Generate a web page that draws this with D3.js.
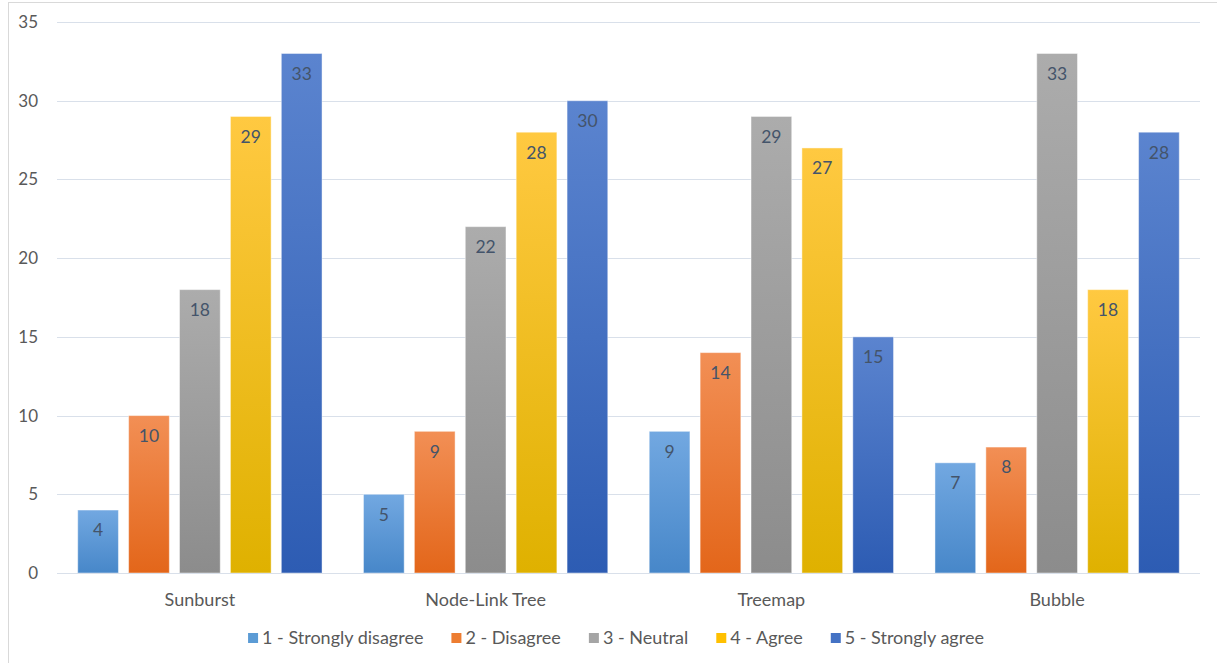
<!DOCTYPE html>
<html>
<head>
<meta charset="utf-8">
<script src="https://cdn.jsdelivr.net/npm/d3@7"></script>
<style>
  html, body { margin: 0; padding: 0; background: #fff; }
  svg { display: block; font-family: Lato, "Open Sans", sans-serif; }
</style>
</head>
<body>
<svg id="chart" width="1217" height="663"></svg>
<script>
// Survey responses per visualization type
const categories = ["Sunburst", "Node-Link Tree", "Treemap", "Bubble"];
const seriesNames = ["1 - Strongly disagree", "2 - Disagree", "3 - Neutral", "4 - Agree", "5 - Strongly agree"];
const stronglyDisagree = [4, 5, 9, 7];
const disagree = [10, 9, 14, 8];
const neutral = [18, 22, 29, 33];
const agree = [29, 28, 27, 18];
const stronglyAgree = [33, 30, 15, 28];
const yTicks = [0, 5, 10, 15, 20, 25, 30, 35];

const seriesValues = [stronglyDisagree, disagree, neutral, agree, stronglyAgree];
// gradient stops per series: top (light) / bottom (dark)
const seriesColors = [
  { top: "#72a8e1", bottom: "#4787c9", key: "#5b9bd5" },
  { top: "#f28f55", bottom: "#e3661a", key: "#ed7d31" },
  { top: "#acacac", bottom: "#8c8c8c", key: "#a5a5a5" },
  { top: "#ffc941", bottom: "#dfb100", key: "#ffc000" },
  { top: "#5b84cf", bottom: "#2d5cb3", key: "#4472c4" }
];

const FONT = "Lato, 'Open Sans', sans-serif";
const svg = d3.select("#chart");
const margin = { left: 57, right: 17, top: 22, bottom: 90 };
const W = 1217, H = 663;

// chart frame
svg.append("rect")
  .attr("x", 8.5).attr("y", 2.5)
  .attr("width", 1230).attr("height", 700)
  .attr("fill", "#fff").attr("stroke", "#d9d9d9").attr("stroke-width", 1);

const x0 = d3.scaleBand().domain(categories)
  .range([margin.left, W - margin.right])
  .paddingInner(0.145).paddingOuter(0.0725);
const x1 = d3.scaleBand().domain(d3.range(seriesNames.length))
  .range([0, x0.bandwidth()]).paddingInner(0.2);
const y = d3.scaleLinear().domain([0, 35]).range([H - margin.bottom, margin.top]);

// gradients
const defs = svg.append("defs");
seriesColors.forEach((c, i) => {
  const g = defs.append("linearGradient").attr("id", "grad" + i)
    .attr("x1", 0).attr("y1", 0).attr("x2", 0).attr("y2", 1);
  g.append("stop").attr("offset", "0%").attr("stop-color", c.top);
  g.append("stop").attr("offset", "100%").attr("stop-color", c.bottom);
});

// gridlines
svg.append("g")
  .selectAll("line").data(yTicks).join("line")
  .attr("x1", margin.left).attr("x2", W - margin.right)
  .attr("y1", d => Math.round(y(d)) + 0.5).attr("y2", d => Math.round(y(d)) + 0.5)
  .attr("stroke", "#d9e0ea").attr("stroke-width", 1);

// y axis labels
const yAxis = d3.axisLeft(y).tickValues(yTicks).tickSize(0).tickPadding(0);
const yg = svg.append("g").attr("transform", `translate(38,0)`).call(yAxis);
yg.select(".domain").remove();
yg.selectAll("text").attr("fill", "#595959").style("font-size", "17px")
  .style("font-family", FONT);

// bars
const groups = svg.append("g").selectAll("g").data(categories).join("g")
  .attr("transform", d => `translate(${x0(d)},0)`);

groups.each(function(cat, ci) {
  const g = d3.select(this);
  seriesValues.forEach((vals, si) => {
    const v = vals[ci];
    g.append("rect")
      .attr("x", x1(si)).attr("y", y(v))
      .attr("width", x1.bandwidth()).attr("height", y(0) - y(v))
      .attr("fill", `url(#grad${si})`)
      .attr("stroke", "rgba(255,255,255,0.45)").attr("stroke-width", 1);
    g.append("text")
      .attr("x", x1(si) + x1.bandwidth() / 2).attr("y", y(v) + 22)
      .attr("text-anchor", "middle").attr("dominant-baseline", "middle")
      .attr("fill", "#44546a").style("font-size", "17.5px")
      .text(v);
  });
});

// baseline
svg.append("line")
  .attr("x1", margin.left).attr("x2", W - margin.right)
  .attr("y1", Math.round(y(0)) + 0.5).attr("y2", Math.round(y(0)) + 0.5)
  .attr("stroke", "#d9e0ea");

// category axis labels
const xAxis = d3.axisBottom(x0).tickSize(0).tickPadding(0);
const xg = svg.append("g").attr("transform", `translate(0,${y(0) + 20})`).call(xAxis);
xg.select(".domain").remove();
xg.selectAll("text").attr("fill", "#595959").style("font-size", "18px")
  .style("font-family", FONT)
  .attr("dy", "0.35em").attr("y", 7);

// legend
const legend = svg.append("g");
const items = legend.selectAll("g").data(seriesNames).join("g");
items.append("rect").attr("width", 10).attr("height", 10).attr("y", -5)
  .attr("fill", (d, i) => seriesColors[i].key);
items.append("text").attr("x", 14).attr("dy", "0.35em")
  .attr("fill", "#595959").style("font-size", "18px").text(d => d);
const widths = [];
items.each(function() { widths.push(this.getBBox().width); });
const gap = 28;
const total = d3.sum(widths) + gap * (widths.length - 1);
let cx = 616 - total / 2;
items.attr("transform", (d, i) => {
  const t = `translate(${cx},638)`;
  cx += widths[i] + gap;
  return t;
});
</script>
</body>
</html>
